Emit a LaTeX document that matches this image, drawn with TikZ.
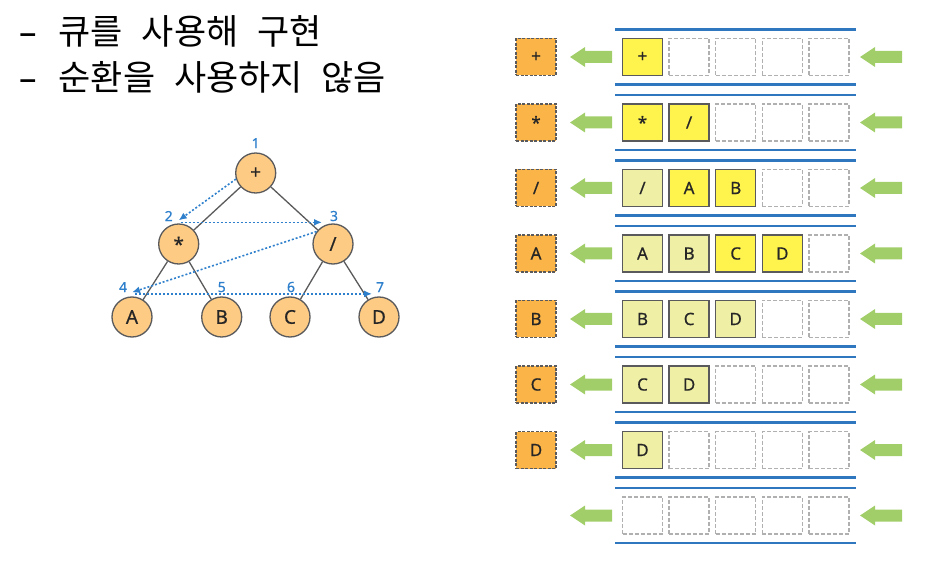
\documentclass[tikz,border=0pt]{standalone}
\usepackage{fontspec}
\setmainfont{Noto Sans}
\newfontfamily\kr[WordSpace=2.4]{Noto Sans CJK KR}
\newfontfamily\lettre[FakeBold=0.6]{Noto Sans}
\definecolor{BleuLigne}{HTML}{2F78C0}
\definecolor{BleuNum}{HTML}{2F80CC}
\definecolor{OrangeSortie}{HTML}{FBB448}
\definecolor{OrangeNoeud}{HTML}{FDCB84}
\definecolor{JauneNouveau}{HTML}{FFF34D}
\definecolor{JauneAncien}{HTML}{EFF0A6}
\definecolor{VertFleche}{HTML}{A2CE6A}
\definecolor{GrisVide}{HTML}{B0B0B0}
\definecolor{GrisBord}{HTML}{5A5A5C}
\definecolor{TexteFonce}{HTML}{262626}
\usetikzlibrary{arrows.meta}
\usetikzlibrary{positioning}
\tikzset{
	treeNode/.style={circle, draw=GrisBord, fill=OrangeNoeud, line width=1.3pt, minimum size=40pt, inner sep=0pt, text=TexteFonce, font=\lettre\fontsize{19}{19}\selectfont},
	numLbl/.style={text=BleuNum, inner sep=1pt, font=\lettre\fontsize{14}{14}\selectfont},
	treeEdge/.style={GrisBord, line width=1.3pt},
	visit/.style={BleuNum, dash pattern=on 2pt off 2pt, line width=1.6pt, -{Latex[length=8pt,width=7pt]}},
	cellBase/.style={rectangle, minimum width=40pt, minimum height=37pt, inner sep=0pt, text=TexteFonce, font=\lettre\fontsize{17}{17}\selectfont},
	emptyCell/.style={cellBase, draw=GrisVide, dash pattern=on 4pt off 2pt, line width=1.4pt},
	newCell/.style={cellBase, draw=GrisBord, fill=JauneNouveau, line width=1.5pt},
	oldCell/.style={cellBase, draw=GrisBord, fill=JauneAncien, line width=1.5pt},
	outBox/.style={cellBase, draw=GrisBord, fill=OrangeSortie, dash pattern=on 3pt off 1.5pt, line width=1.5pt},
	queueLine/.style={BleuLigne, line width=2.8pt}
}
\begin{document}
\begin{tikzpicture}[x=1pt, y=-1pt]
	\useasboundingbox (0,0) rectangle (940,569);
	%
	%Titre
	\node[anchor=west, inner sep=0pt, font=\fontsize{35}{35}\selectfont] (L1) at (19,31) {–\hspace{22pt}\kr 큐를 사용해 구현};
	\node[anchor=west, inner sep=0pt, font=\fontsize{35}{35}\selectfont] (L2) at (19,77.5) {–\hspace{22pt}\kr 순환을 사용하지 않음};
	%
	%Arbre
	\node[treeNode, label={[numLbl, label distance=3pt]above:1}] at (255.7,173) (T1) {+};
	\node[treeNode, label={[numLbl, label distance=1pt, xshift=-10pt]above:2}] at (178.7,244) (T2) {*};
	\node[treeNode, label={[numLbl, label distance=1pt, xshift=1pt]above:3}] at (333,244) (T3) {/};
	\node[treeNode, label={[numLbl, label distance=3pt, xshift=-9pt]above:4}] at (132,317) (T4) {A};
	\node[treeNode, label={[numLbl, label distance=3pt]above:5}] at (221.7,317) (T5) {B};
	\node[treeNode, label={[numLbl, label distance=3pt, xshift=1pt]above:6}] at (290,317) (T6) {C};
	\node[treeNode, label={[numLbl, label distance=3pt, xshift=1pt]above:7}] at (379,317) (T7) {D};
	%
	\draw[treeEdge] (T1) -- (T2);
	\draw[treeEdge] (T1) -- (T3);
	\draw[treeEdge] (T2) -- (T4);
	\draw[treeEdge] (T2) -- (T5);
	\draw[treeEdge] (T3) -- (T6);
	\draw[treeEdge] (T3) -- (T7);
	%
	%Parcours en largeur
	\draw[visit] (T1.197) -- ([yshift=3pt]T2.north);
	\draw[visit] ([xshift=2pt, yshift=1pt]T2.north) -- ([xshift=-11pt, yshift=1pt]T3.north);
	\draw[visit] (T3.143) -- ([yshift=4pt]T4.north);
	\draw[visit] ([xshift=3pt, yshift=2.5pt]T4.north) -- ([xshift=-7pt, yshift=2.5pt]T7.north);
	%
	%Files
	\foreach \r [evaluate=\r as \y using 57+65.5*(\r-1)] in {1,...,8} {
		\draw[queueLine] (615,\y-27.5) -- (856,\y-27.5);
		\draw[queueLine] (615,\y+27.5) -- (856,\y+27.5);
		\foreach \c in {1,...,5}
			\node[emptyCell] (c\r\c) at ({642.5+46.6*(\c-1)},\y) {};
		\foreach \dx in {0,290}
			\fill[VertFleche] (612+\dx,\y-6) -- ++(-27,0) -- ++(0,-4) -- ++(-15,10) -- ++(15,10) -- ++(0,-4) -- ++(27,0) -- cycle;
	}
	%
	\node[newCell] (n11) at (c11) {+};
	%
	\node[newCell] (n21) at (c21) {*};
	\node[newCell] (n22) at (c22) {/};
	%
	\node[oldCell] (n31) at (c31) {/};
	\node[newCell] (n32) at (c32) {A};
	\node[newCell] (n33) at (c33) {B};
	%
	\node[oldCell] (n41) at (c41) {A};
	\node[oldCell] (n42) at (c42) {B};
	\node[newCell] (n43) at (c43) {C};
	\node[newCell] (n44) at (c44) {D};
	%
	\node[oldCell] (n51) at (c51) {B};
	\node[oldCell] (n52) at (c52) {C};
	\node[oldCell] (n53) at (c53) {D};
	%
	\node[oldCell] (n61) at (c61) {C};
	\node[oldCell] (n62) at (c62) {D};
	%
	\node[oldCell] (n71) at (c71) {D};
	%
	%Sorties
	\node[outBox, left=65pt of c11] (out1) {+};
	\node[outBox, left=65pt of c21] (out2) {*};
	\node[outBox, left=65pt of c31] (out3) {/};
	\node[outBox, left=65pt of c41] (out4) {A};
	\node[outBox, left=65pt of c51] (out5) {B};
	\node[outBox, left=65pt of c61] (out6) {C};
	\node[outBox, left=65pt of c71] (out7) {D};
	%
\end{tikzpicture}
\end{document}
